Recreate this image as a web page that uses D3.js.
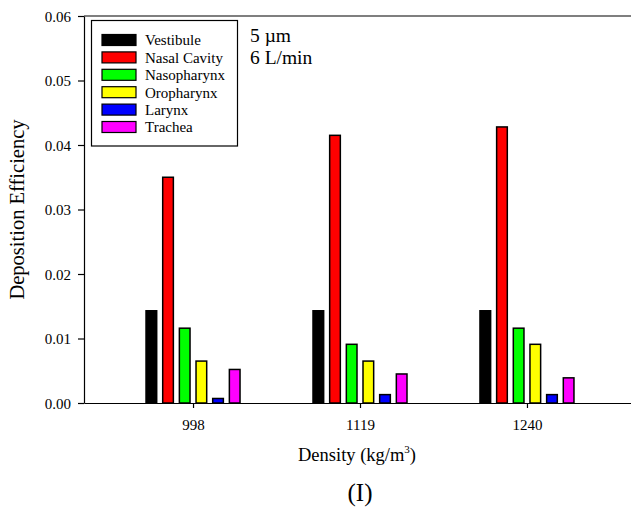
<!DOCTYPE html>
<html>
<head>
<meta charset="utf-8">
<script src="https://cdnjs.cloudflare.com/ajax/libs/d3/7.8.5/d3.min.js"></script>
<style>
	body { margin: 0; background: #fff; }
	text { font-family: 'Liberation Serif', 'Times New Roman', serif; fill: #000; }
</style>
</head>
<body>
<script>
const densities = ['998', '1119', '1240'];
const regions = ['Vestibule', 'Nasal Cavity', 'Nasopharynx', 'Oropharynx', 'Larynx', 'Trachea'];
const colors = ['#000000', '#ff0000', '#00ff00', '#ffff00', '#0000ff', '#ff00ff'];
// one array per region, values for 998, 1119, 1240
const vestibule = [0.0143, 0.0143, 0.0143];
const nasalCavity = [0.0350, 0.0415, 0.0428];
const nasopharynx = [0.0116, 0.0091, 0.0116];
const oropharynx = [0.0065, 0.0065, 0.0091];
const larynx = [0.0007, 0.0013, 0.0013];
const trachea = [0.0052, 0.0045, 0.0039];
const yTicks = [0, 0.01, 0.02, 0.03, 0.04, 0.05, 0.06];

const series = [vestibule, nasalCavity, nasopharynx, oropharynx, larynx, trachea];

const w = 631;
const h = 507;
const padLeft = 84;
const padRight = 636;
const padTop = 16;
const padBottom = 403;

const svg = d3
	.select('body')
	.append('svg')
	.attr('width', w)
	.attr('height', h);

const xScale = d3
	.scalePoint()
	.domain(densities)
	.range([padLeft, padRight])
	.padding(0.653);

const inner = d3
	.scaleBand()
	.domain(regions)
	.range([-50, 50])
	.paddingInner(0.36)
	.paddingOuter(0.18);

const yScale = d3
	.scaleLinear()
	.domain([0, 0.06])
	.range([padBottom, padTop]);

// bars
const cells = [];
series.forEach((vals, si) => {
	vals.forEach((v, di) => cells.push({ region: regions[si], color: colors[si], density: densities[di], value: v }));
});

svg
	.append('g')
	.selectAll('rect')
	.data(cells)
	.enter()
	.append('rect')
	.attr('x', d => xScale(d.density) + inner(d.region))
	.attr('y', d => yScale(d.value))
	.attr('width', inner.bandwidth())
	.attr('height', d => yScale(0) - yScale(d.value))
	.attr('fill', d => d.color)
	.attr('stroke', '#000')
	.attr('stroke-width', 1.5);

// top frame line
svg
	.append('line')
	.attr('x1', padLeft)
	.attr('x2', padRight)
	.attr('y1', padTop)
	.attr('y2', padTop)
	.attr('stroke', '#000')
	.attr('stroke-width', 1.2);

const yAxis = svg
	.append('g')
	.attr('transform', `translate(${padLeft},0)`)
	.call(d3.axisLeft(yScale).tickValues(yTicks).tickFormat(d3.format('.2f')).tickSize(6).tickSizeOuter(0));

const xAxis = svg
	.append('g')
	.attr('transform', `translate(0,${padBottom})`)
	.call(d3.axisBottom(xScale).tickSize(5).tickSizeOuter(0).tickPadding(11));

[yAxis, xAxis].forEach(g => {
	g.selectAll('path, line').attr('stroke', '#000').attr('stroke-width', 1.2);
	g.selectAll('text').style('font-family', "'Liberation Serif', serif").style('font-size', '15px').attr('fill', '#000');
});
yAxis.selectAll('text').attr('x', -13).attr('dy', '0.35em');

// axis titles
svg
	.append('text')
	.attr('transform', `translate(24,${(padTop + padBottom) / 2}) rotate(-90)`)
	.attr('text-anchor', 'middle')
	.style('font-size', '20.5px')
	.text('Deposition Efficiency');

const xt = svg
	.append('text')
	.attr('x', 357)
	.attr('y', 461)
	.attr('text-anchor', 'middle')
	.style('font-size', '18.5px');
xt.append('tspan').text('Density (kg/m');
xt.append('tspan').attr('dy', -8).style('font-size', '11px').text('3');
xt.append('tspan').attr('dy', 8).text(')');

svg
	.append('text')
	.attr('x', 360)
	.attr('y', 501)
	.attr('text-anchor', 'middle')
	.style('font-size', '25px')
	.text('(I)');

// legend
const legend = svg.append('g');
legend
	.append('rect')
	.attr('x', 91.5)
	.attr('y', 20.5)
	.attr('width', 146)
	.attr('height', 125.5)
	.attr('fill', '#fff')
	.attr('stroke', '#000')
	.attr('stroke-width', 1.2);

const rows = legend
	.selectAll('g')
	.data(regions)
	.enter()
	.append('g')
	.attr('transform', (d, i) => `translate(0,${34.5 + i * 17.4})`);

rows
	.append('rect')
	.attr('x', 102)
	.attr('y', 0)
	.attr('width', 34)
	.attr('height', 11)
	.attr('fill', (d, i) => colors[i])
	.attr('stroke', '#000')
	.attr('stroke-width', 1.2);

rows
	.append('text')
	.attr('x', 145)
	.attr('y', 10.8)
	.style('font-size', '15px')
	.text(d => d);

svg
	.append('text')
	.attr('x', 250)
	.attr('y', 41.5)
	.style('font-size', '19.5px')
	.text('5 \u00b5m');

svg
	.append('text')
	.attr('x', 250)
	.attr('y', 64)
	.style('font-size', '19.5px')
	.text('6 L/min');
</script>
</body>
</html>
